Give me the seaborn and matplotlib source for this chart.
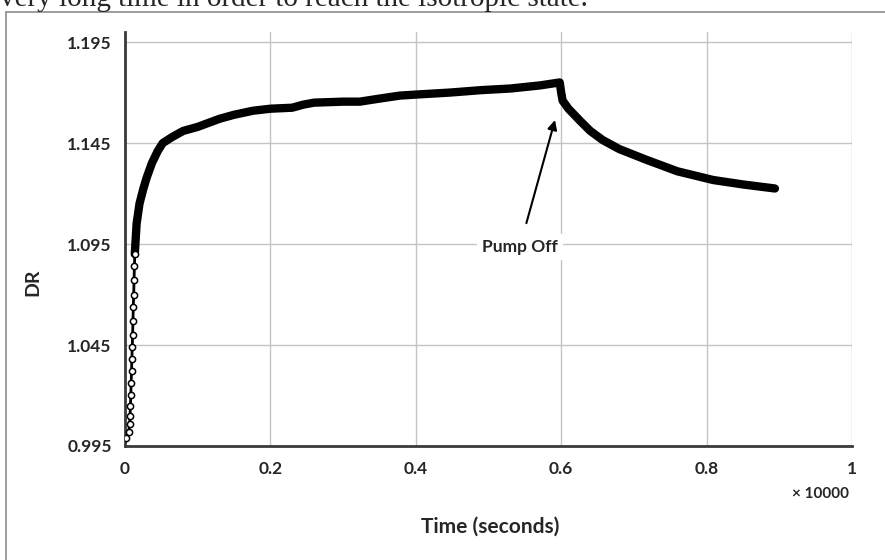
import numpy as np
import pandas as pd
import matplotlib
matplotlib.use("Agg")
import matplotlib.pyplot as plt
import seaborn as sns
from matplotlib.lines import Line2D

# DR readings taken off the figure (time in seconds)
rise_time = [20, 50, 65, 70, 75, 80, 85, 90, 95, 100, 105, 110, 115, 120, 125, 130, 135]
rise_dr = [0.999, 1.002, 1.006, 1.010, 1.015, 1.020, 1.026, 1.032, 1.038, 1.044,
           1.050, 1.057, 1.064, 1.070, 1.077, 1.084, 1.090]

main_time = [135, 160, 200, 250, 300, 370, 450, 520, 650, 800, 1000, 1300, 1500,
             1760, 2000, 2300, 2450, 2600, 3000, 3230, 3500, 3780, 4000, 4470,
             4900, 5300, 5700, 5980, 6000, 6020, 6100, 6260, 6400, 6570, 6800,
             7180, 7600, 8090, 8500, 8940]
main_dr = [1.090, 1.105, 1.115, 1.122, 1.128, 1.135, 1.141, 1.145, 1.148, 1.151,
           1.153, 1.157, 1.159, 1.161, 1.162, 1.1625, 1.164, 1.165, 1.1655, 1.1655,
           1.167, 1.1685, 1.169, 1.170, 1.1712, 1.172, 1.1735, 1.175, 1.170, 1.166,
           1.162, 1.156, 1.151, 1.1465, 1.142, 1.1366, 1.131, 1.1267, 1.1245, 1.1225]

y_ticks = [0.995, 1.045, 1.095, 1.145, 1.195]
x_ticks = [0, 0.2, 0.4, 0.6, 0.8, 1]
x_tick_labels = ["0", "0.2", "0.4", "0.6", "0.8", "1"]
display_unit = 10000

rise = pd.DataFrame({"t": np.array(rise_time) / display_unit, "dr": rise_dr})
main = pd.DataFrame({"t": np.array(main_time) / display_unit, "dr": main_dr})

sns.set_style("white")
plt.rcParams["font.family"] = ["Lato", "DejaVu Sans"]

fig = plt.figure(figsize=(8.85, 5.6), dpi=100)
ax = fig.add_axes([0.1412, 0.2036, 0.8215, 0.7393])

ax.grid(True, color="#c4c4c4", linewidth=1)
ax.set_axisbelow(True)

sns.lineplot(data=main, x="t", y="dr", ax=ax, color="black", linewidth=6,
             sort=False, estimator=None, solid_capstyle="round",
             solid_joinstyle="round")
sns.lineplot(data=rise, x="t", y="dr", ax=ax, color="black", linewidth=2,
             sort=False, estimator=None)
sns.scatterplot(data=rise, x="t", y="dr", ax=ax, marker="o", s=20,
                facecolor="white", edgecolor="black", linewidth=1.1, zorder=5)

ax.set_xlim(0, 1)
ax.set_ylim(0.995, 1.2)
ax.set_xticks(x_ticks)
ax.set_xticklabels(x_tick_labels)
ax.set_yticks(y_ticks)
ax.set_yticklabels([f"{v:.3f}" for v in y_ticks])

for side in ["top", "right"]:
    ax.spines[side].set_visible(False)
for side in ["left", "bottom"]:
    ax.spines[side].set_color("#3a3a3a")
    ax.spines[side].set_linewidth(2)

ax.tick_params(axis="both", direction="inout", length=7, width=1.5,
               color="#3a3a3a", labelsize=12.5, labelcolor="#262626")
ax.tick_params(axis="x", pad=7)
ax.tick_params(axis="y", pad=6)
for lab in ax.get_xticklabels() + ax.get_yticklabels():
    lab.set_fontweight("bold")

ax.set_xlabel("")
ax.set_ylabel("")
fig.text(33 / 885, 1 - 282 / 560, "DR", rotation=90, ha="center", va="center",
         fontsize=14, fontweight="bold", color="#262626")
fig.text(490 / 885, 1 - 527 / 560, "Time (seconds)", ha="center", va="center",
         fontsize=15, fontweight="bold", color="#262626")
fig.text(820 / 885, 1 - 494 / 560, "\u00d7 10000", ha="center", va="center",
         fontsize=11, fontweight="bold", color="#262626")

ax.annotate("Pump Off", xy=(0.5915, 1.1564), xytext=(0.543, 1.0935),
            ha="center", va="center", fontsize=12.5, fontweight="bold",
            color="#262626",
            bbox=dict(boxstyle="square,pad=0.3", fc="white", ec="none"),
            arrowprops=dict(arrowstyle="-|>", color="black", lw=1.5,
                            mutation_scale=14, shrinkA=8, shrinkB=0))

# chart-area border and the clipped page text above it
fig.add_artist(Line2D([6 / 885, 6 / 885], [0, 1 - 12 / 560],
                      transform=fig.transFigure, color="#8c8c8c", lw=1.2))
fig.add_artist(Line2D([6 / 885, 1], [1 - 12 / 560, 1 - 12 / 560],
                      transform=fig.transFigure, color="#8c8c8c", lw=1.2))
fig.text(0, 1 - 6 / 560, "very long time in order to reach the isotropic state.",
         ha="left", va="baseline", fontsize=21,
         family=["Liberation Serif", "DejaVu Serif"])

fig.savefig("out.png", dpi=100)
